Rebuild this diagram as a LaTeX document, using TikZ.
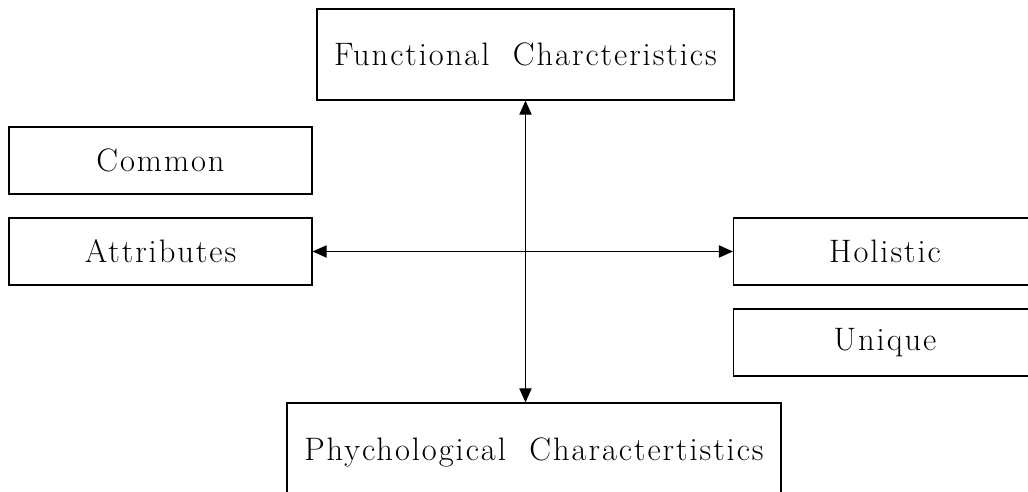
\documentclass[tikz,border=0pt]{standalone}
\usepackage{fontspec}
\newfontfamily\boxfont{Latin Modern Roman}[LetterSpace=6]
\usetikzlibrary{arrows.meta}
\begin{document}
\begin{tikzpicture}[x=0.02cm,y=-0.02cm,
    box/.style={draw,line width=0.7pt,inner sep=0pt,font=\boxfont\fontsize{18.5}{22}\selectfont},
    sidebox/.style={box,minimum width=6.06cm,minimum height=1.34cm},
    axis/.style={line width=0.6pt,{Triangle[length=8pt,width=7pt]}-{Triangle[length=8pt,width=7pt]}}]
          \path[use as bounding box] (0,0) rectangle (1028,492);
          \clip (0,0) rectangle (1028,492);

          \node[box,minimum width=8.34cm,minimum height=1.82cm] (func) at (525.5,54.5) {Functional\ \ Charcteristics};

          \node[sidebox] (common) at (160.5,160.5) {Common};
          \node[sidebox] (attr) at (160.5,251.5) {Attributes};

          \node[sidebox] (holistic) at (885,251.5) {Holistic};
          \node[sidebox] (unique) at (885,342.5) {Unique};

          \node[box,minimum width=9.88cm,minimum height=1.96cm] (psych) at (534,452) {Phychological\ \ Charactertistics};

          \draw[axis] (func.south) -- (func.south |- psych.north);
          \draw[axis] (attr.east) -- (holistic.west);

    \end{tikzpicture}
\end{document}
